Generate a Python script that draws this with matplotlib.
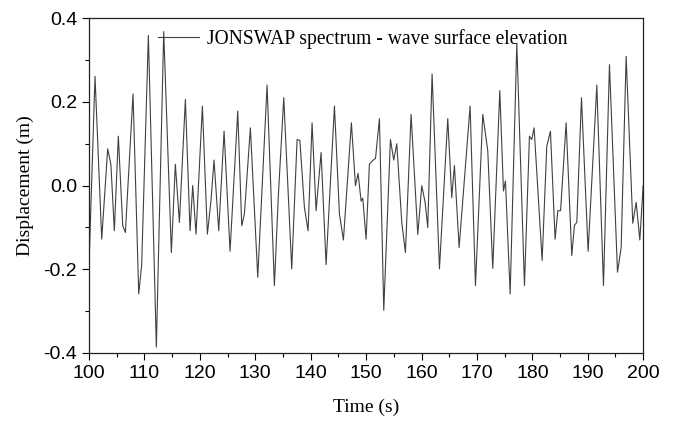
import matplotlib
matplotlib.use('Agg')
import matplotlib.pyplot as plt
from matplotlib.ticker import MultipleLocator

# wave record: time (s) and elevation (m) at peaks, troughs and shoulders
time = [100.0, 101.08, 102.29, 103.37, 103.95, 104.57, 105.29, 106.08, 106.56,
        107.94, 108.97, 109.5, 110.71, 112.15, 113.48, 114.86, 115.58, 116.31,
        117.39, 118.23, 118.71, 119.31, 120.46, 121.36, 122.0, 122.56, 123.41,
        124.37, 125.45, 126.84, 127.56, 128.04, 129.12, 130.45, 132.13, 133.45,
        134.18, 135.14, 136.58, 137.55, 138.05, 138.87, 139.53, 140.25, 140.98,
        141.88, 142.78, 144.29, 145.19, 145.91, 147.35, 148.08, 148.56, 149.1,
        149.4, 150.0, 150.6, 151.2, 151.7, 152.41, 153.19, 154.39, 154.99,
        155.54, 156.44, 157.1, 158.12, 159.33, 160.05, 160.65, 161.13, 161.91,
        163.24, 164.74, 165.46, 165.94, 166.79, 168.77, 169.74, 171.06, 171.96,
        172.86, 174.13, 174.79, 175.15, 176.0, 177.2, 178.58, 179.48, 179.9,
        180.32, 181.77, 182.61, 183.27, 184.11, 184.6, 185.1, 186.1, 187.12,
        187.6, 188.03, 188.87, 190.07, 191.64, 192.84, 193.92, 195.37, 196.03,
        196.93, 198.13, 198.74, 199.4, 200.0]
elevation = [-0.19, 0.261, -0.128, 0.088, 0.05, -0.108, 0.118, -0.096, -0.112,
             0.219, -0.259, -0.19, 0.359, -0.386, 0.368, -0.16, 0.051, -0.088,
             0.206, -0.108, 0.0, -0.116, 0.19, -0.116, -0.037, 0.061, -0.108,
             0.13, -0.157, 0.178, -0.096, -0.068, 0.138, -0.219, 0.24, -0.239,
             -0.021, 0.21, -0.199, 0.11, 0.108, -0.052, -0.108, 0.15, -0.06,
             0.079, -0.189, 0.19, -0.068, -0.13, 0.15, 0.0, 0.029, -0.037,
             -0.03, -0.128, 0.051, 0.06, 0.065, 0.16, -0.298, 0.11, 0.061,
             0.1, -0.088, -0.16, 0.17, -0.117, 0.0, -0.04, -0.1, 0.267,
             -0.199, 0.16, -0.029, 0.048, -0.148, 0.19, -0.239, 0.17, 0.083,
             -0.198, 0.227, -0.013, 0.011, -0.259, 0.34, -0.239, 0.118, 0.11,
             0.138, -0.179, 0.094, 0.13, -0.128, -0.06, -0.06, 0.15, -0.167,
             -0.095, -0.088, 0.21, -0.157, 0.24, -0.239, 0.289, -0.207, -0.148,
             0.309, -0.09, -0.04, -0.13, 0.0]

serif = 'Liberation Serif'
sans = 'Liberation Sans'

fig = plt.figure(figsize=(6.77, 4.23), dpi=100)
ax = fig.add_axes([0.1315, 0.1655, 0.8185, 0.7915])

ax.plot(time, elevation, color='#404040', lw=0.8,
        label='JONSWAP spectrum - wave surface elevation')

ax.set_xlim(100, 200)
ax.set_ylim(-0.4, 0.4)
ax.xaxis.set_major_locator(MultipleLocator(10))
ax.xaxis.set_minor_locator(MultipleLocator(5))
ax.yaxis.set_major_locator(MultipleLocator(0.2))
ax.yaxis.set_minor_locator(MultipleLocator(0.1))
ax.yaxis.set_major_formatter(matplotlib.ticker.FormatStrFormatter('%.1f'))

ax.tick_params(which='major', direction='out', length=5, width=0.8, pad=3.5,
               labelsize=14)
ax.tick_params(which='minor', direction='out', length=2.8, width=0.8)
for lab in ax.get_xticklabels() + ax.get_yticklabels():
    lab.set_family(sans)
for s in ax.spines.values():
    s.set_linewidth(0.9)
    s.set_color('#222222')

ax.set_xlabel('Time (s)', family=serif, fontsize=14, labelpad=12)
ax.set_ylabel('Displacement (m)', family=serif, fontsize=14, labelpad=7)

ax.legend(loc='center left', bbox_to_anchor=(0.1245, 0.938), frameon=False,
          borderpad=0, borderaxespad=0, handlelength=2.1, handletextpad=0.4,
          prop={'family': serif, 'size': 14.1})

fig.savefig('out.png', dpi=100)
